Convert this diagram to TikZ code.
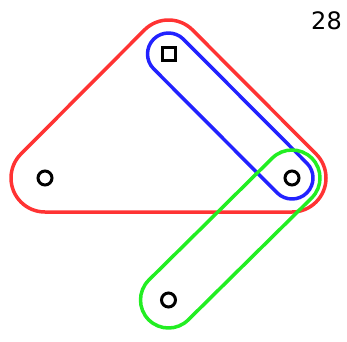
\documentclass[tikz,border=0pt]{standalone}
\usepackage{fontspec}
\setsansfont{DejaVu Sans}
\usepackage{xcolor}
\usepackage{tikz}
\usetikzlibrary{calc}

\definecolor{edgered}{RGB}{255,51,51}
\definecolor{edgeblue}{RGB}{34,34,255}
\definecolor{edgegreen}{RGB}{34,238,34}

\begin{document}
\begin{tikzpicture}[
  x=1pt, y=1pt,
  vert/.style={draw, circle, line width=3pt, minimum size=14pt, inner sep=0pt},
  sqvert/.style={draw, rectangle, line width=3pt, minimum size=13pt, inner sep=0pt},
  hedge/.style={line width=3.5pt, line join=round}
]
  \useasboundingbox (0,0) rectangle (347,341);

  \node[sqvert] (top)    at (168.5,287) {};
  \node[vert]   (left)   at (45,163)    {};
  \node[vert]   (right)  at (292,163)   {};
  \node[vert]   (bottom) at (168.5,41)  {};

  \node[font=\sffamily\fontsize{24}{24}\selectfont, inner sep=0pt] (num) at (326.5,320.5) {28};

  % hyperedges
  \draw[hedge, edgered] ($(left)+(135:34)$) -- ($(top)+(135:34)$)
    arc[start angle=135, end angle=45, radius=34] -- ($(right)+(45:34)$)
    arc[start angle=45, end angle=-90, radius=34] -- ($(left)+(-90:34)$)
    arc[start angle=270, end angle=135, radius=34] -- cycle;
  \draw[hedge, edgeblue] ($(top)+(225:21)$) -- ($(right)+(225:21)$)
    arc[start angle=225, end angle=405, radius=21] -- ($(top)+(45:21)$)
    arc[start angle=45, end angle=225, radius=21] -- cycle;
  \draw[hedge, edgegreen] ($(right)+(135:28)$) -- ($(bottom)+(135:28)$)
    arc[start angle=135, end angle=315, radius=28] -- ($(right)+(315:28)$)
    arc[start angle=-45, end angle=135, radius=28] -- cycle;
\end{tikzpicture}
\end{document}
